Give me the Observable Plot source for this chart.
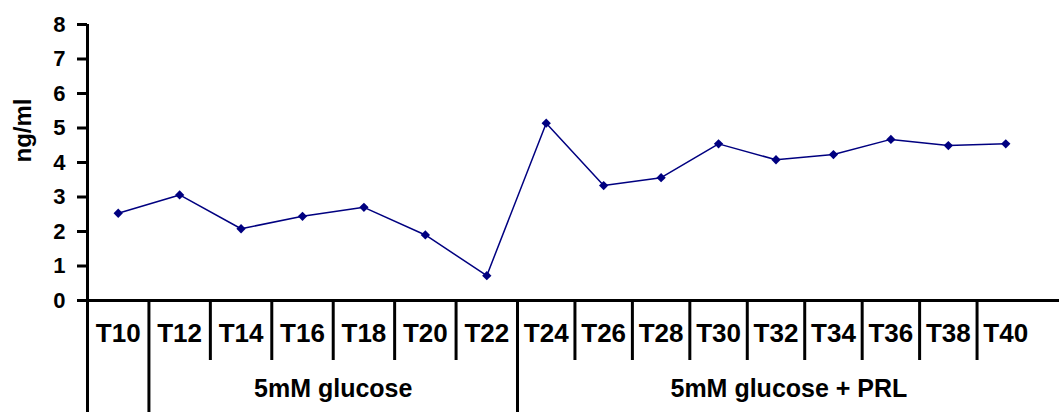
<!DOCTYPE html>
<html>
<head>
<meta charset="utf-8">
<script src="https://cdn.jsdelivr.net/npm/d3@7"></script>
<script src="https://cdn.jsdelivr.net/npm/@observablehq/plot@0.6"></script>
<style>
  html, body { margin: 0; padding: 0; background: #fff; }
  #chart svg { display: block; }
</style>
</head>
<body>
<div id="chart"></div>
<script>
// ---- data ----
const labels = ["T10","T12","T14","T16","T18","T20","T22","T24","T26","T28","T30","T32","T34","T36","T38","T40"];
const values = [2.53, 3.06, 2.08, 2.44, 2.70, 1.90, 0.72, 5.14, 3.33, 3.56, 4.54, 4.08, 4.23, 4.67, 4.49, 4.54];
const groupNames = ["", "5mM glucose", "5mM glucose + PRL"];
const groupStarts = [0, 1, 7];
const yTicks = [0, 1, 2, 3, 4, 5, 6, 7, 8];
const yLabel = "ng/ml";

// ---- derived tables ----
const points = values.map((v, i) => ({i, v, label: labels[i]}));
const longSeps = groupStarts.slice(1).map(s => s - 0.5);
const shortSeps = d3.range(0.5, labels.length - 1).filter(b => !longSeps.includes(b));
const groups = groupNames.map((name, g) => {
  const start = groupStarts[g];
  const end = g + 1 < groupStarts.length ? groupStarts[g + 1] : labels.length + 0.45;
  return {name, center: (start + end - 1) / 2};
}).filter(d => d.name);

const font = {fontFamily: "Liberation Sans, Arial, sans-serif", fontWeight: "bold"};

const chart = Plot.plot({
  width: 1059,
  height: 412,
  marginLeft: 87,
  marginRight: 0,
  marginTop: 24,
  marginBottom: 112,
  style: {fontFamily: "Liberation Sans, Arial, sans-serif", fontSize: "22px", fontWeight: "bold", color: "#000", background: "#fff"},
  x: {type: "linear", domain: [-0.5, 6.5, 15.5], range: [87, 517, 1034], axis: null},
  y: {domain: [0, 8]},
  marks: [
    Plot.axisY({ticks: yTicks, tickSize: 10, tickPadding: 12, strokeWidth: 3, tickFormat: d => d, label: null}),
    Plot.text([yLabel], {frameAnchor: "left", rotate: -90, dx: -64, fontSize: 24, ...font}),
    Plot.ruleY([0], {strokeWidth: 3}),
    Plot.ruleX([-0.5], {y1: 8, y2: 0, insetBottom: -112, strokeWidth: 3}),
    Plot.ruleX(longSeps, {y1: 0, y2: 0, insetBottom: -112, strokeWidth: 3}),
    Plot.ruleX(shortSeps, {y1: 0, y2: 0, insetBottom: -60, strokeWidth: 3}),
    Plot.text(points, {x: "i", text: "label", frameAnchor: "bottom", dy: 41, fontSize: 26, ...font}),
    Plot.text(groups, {x: "center", text: "name", frameAnchor: "bottom", dy: 96, fontSize: 25, ...font}),
    Plot.line(points, {x: "i", y: "v", stroke: "#000080", strokeWidth: 1.5}),
    Plot.dot(points, {x: "i", y: "v", symbol: "diamond2", r: 4.2, fill: "#000080", stroke: "none"})
  ]
});
document.getElementById("chart").appendChild(chart);
</script>
</body>
</html>
